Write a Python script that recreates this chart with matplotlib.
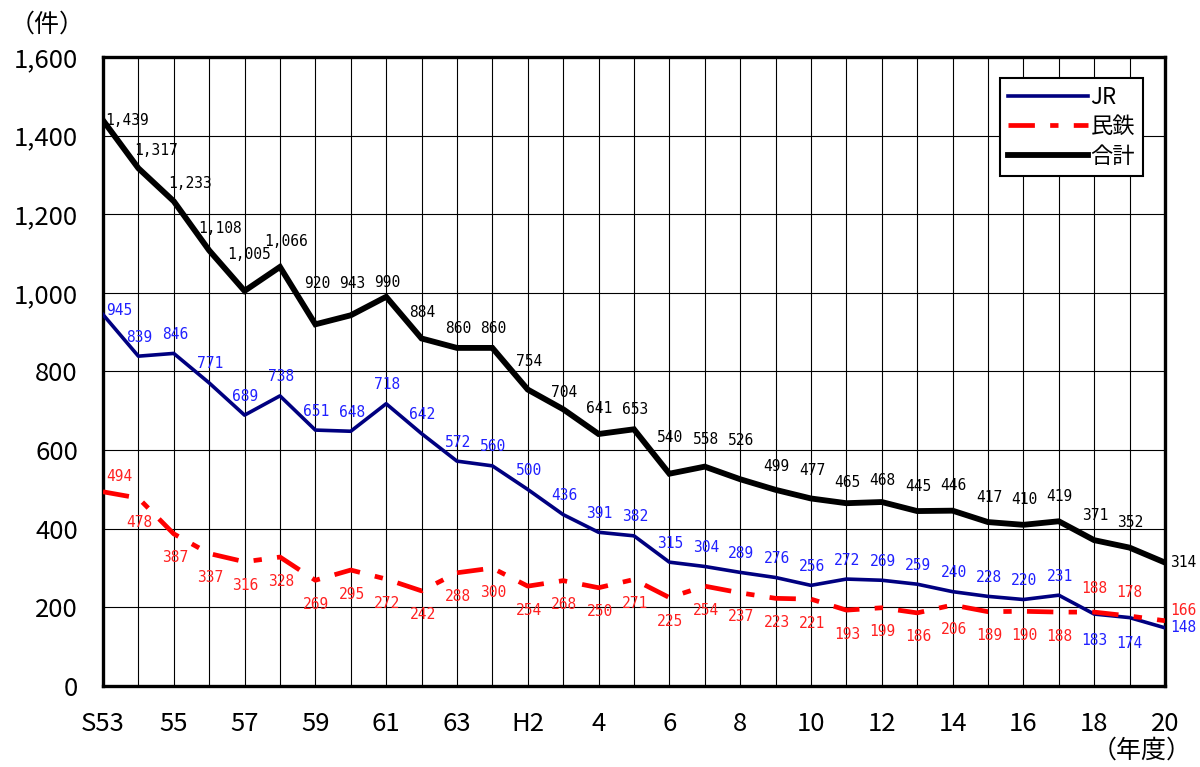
import matplotlib
matplotlib.use("Agg")
from matplotlib import pyplot as plt

plt.rcParams['font.family'] = ['Noto Sans CJK JP', 'DejaVu Sans']
plt.rcParams['lines.scale_dashes'] = False

# S53 .. H20
xlabels = ['S53', '', '55', '', '57', '', '59', '', '61', '', '63', '', 'H2', '',
           '4', '', '6', '', '8', '', '10', '', '12', '', '14', '', '16', '', '18', '', '20']
jr = [945, 839, 846, 771, 689, 738, 651, 648, 718, 642, 572, 560, 500, 436, 391, 382,
      315, 304, 289, 276, 256, 272, 269, 259, 240, 228, 220, 231, 183, 174, 148]
mintetsu = [494, 478, 387, 337, 316, 328, 269, 295, 272, 242, 288, 300, 254, 268, 250, 271,
            225, 254, 237, 223, 221, 193, 199, 186, 206, 189, 190, 188, 188, 178, 166]
total = [1439, 1317, 1233, 1108, 1005, 1066, 920, 943, 990, 884, 860, 860, 754, 704, 641, 653,
         540, 558, 526, 499, 477, 465, 468, 445, 446, 417, 410, 419, 371, 352, 314]

x = list(range(len(total)))

fig = plt.figure(figsize=(12, 7.67), dpi=100)
ax = fig.add_axes([0.0858, 0.1056, 0.8850, 0.8201])

ax.plot(x, jr, color='#000080', lw=2.6, label='JR', zorder=3)
ax.plot(x, mintetsu, color='#ff0000', lw=3.4, linestyle=(0, (19, 11, 6, 11)),
        label='民鉄', zorder=3)
ax.plot(x, total, color='black', lw=4.2, label='合計', zorder=4, solid_joinstyle='miter')

ax.set_xlim(0, 30)
ax.set_ylim(0, 1600)
ax.set_xticks(x)
ax.set_xticklabels(xlabels, fontsize=18.5)
ax.set_yticks(range(0, 1601, 200))
ax.set_yticklabels(['{:,}'.format(v) for v in range(0, 1601, 200)], fontsize=18.5)
ax.tick_params(axis='x', length=0, pad=18)
ax.tick_params(axis='y', length=0, pad=18)
ax.grid(True, color='black', lw=0.8)
ax.set_axisbelow(True)
for s in ax.spines.values():
    s.set_linewidth(2.4)

lab_font = ['DejaVu Sans Mono']
lab_size = 10.5

def put(v, i, dx, dy, color, ha='center'):
    # dx, dy in pixels
    ax.annotate('{:,}'.format(v), (i, v), xytext=(dx * 0.72, dy * 0.72),
                textcoords='offset points', ha=ha, va='center', fontsize=lab_size,
                family=lab_font, color=color, zorder=6)

# total labels, lifted like the hand-placed ones in the original
tot_dx = {1: 18, 2: 16, 3: 11, 4: 5, 5: 6, 6: 2}
tot_dy = {1: 18, 2: 18, 3: 22, 4: 36, 5: 25, 6: 41, 7: 32, 8: 14, 9: 26, 10: 19,
          11: 19, 12: 28, 13: 17, 14: 26, 15: 20, 16: 36, 17: 27, 18: 39, 19: 23,
          20: 28, 21: 21, 22: 22}
for i, v in enumerate(total):
    if i == 0:
        put(v, i, 2, 0, 'black', ha='left')
    elif i == 30:
        put(v, i, 5, 0, 'black', ha='left')
    else:
        put(v, i, tot_dx.get(i, 1), tot_dy.get(i, 25), 'black')

# JR labels
for i, v in enumerate(jr):
    if i == 0:
        put(v, i, 3, 4, '#2020ff', ha='left')
    elif i == 30:
        put(v, i, 5, 0, '#2020ff', ha='left')
    elif i in (28, 29):
        put(v, i, 0, -26, '#2020ff')
    else:
        put(v, i, 1, 19, '#2020ff')

# 民鉄 labels
for i, v in enumerate(mintetsu):
    if i == 0:
        put(v, i, 3, 15, '#ff2020', ha='left')
    elif i == 30:
        put(v, i, 5, 10, '#ff2020', ha='left')
    elif i in (28, 29):
        put(v, i, 0, 24, '#ff2020')
    else:
        put(v, i, 1, -24, '#ff2020')

leg = ax.legend(loc='upper right', bbox_to_anchor=(0.979, 0.967), fontsize=16,
                frameon=True, fancybox=False, edgecolor='black', framealpha=1,
                handlelength=3.6, handletextpad=0.1, borderpad=0.35, labelspacing=0.3,
                borderaxespad=0)
leg.get_frame().set_linewidth(1.5)

fig.text(0.008, 0.968, '（件）', fontsize=18, ha='left', va='center')
fig.text(0.993, 0.022, '（年度）', fontsize=18, ha='right', va='center')

fig.savefig('out.png', dpi=100)
